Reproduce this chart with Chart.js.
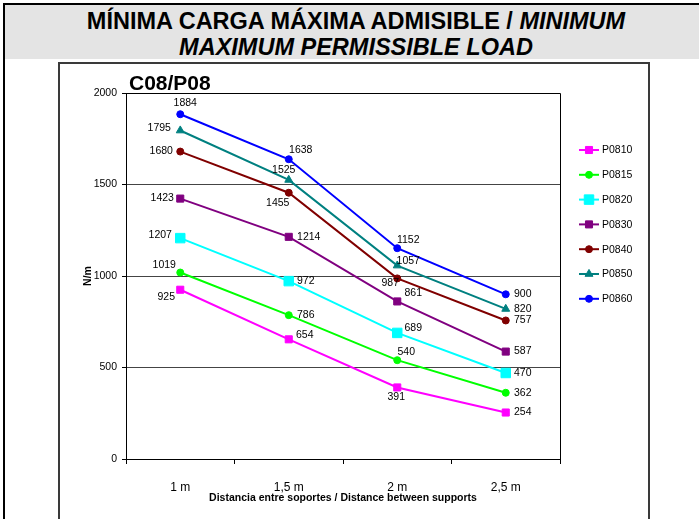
<!DOCTYPE html>
<html>
<head>
<meta charset="utf-8">
<script src="https://cdn.jsdelivr.net/npm/chart.js@4"></script>
<style>
  html, body { margin: 0; padding: 0; background: #fff; width: 699px; height: 519px; overflow: hidden; }
  body { position: relative; font-family: "Liberation Sans", Arial, sans-serif; }
  .frameTop { position: absolute; left: 3px; top: 3px; right: 0; height: 2px; background: #000; }
  .frameLeft { position: absolute; left: 3px; top: 3px; width: 2px; bottom: 0; background: #000; }
  .band { position: absolute; left: 5px; top: 5px; right: 0; height: 54px; background: #e4e4e4; }
  .heading { position: absolute; left: 0; top: 8px; width: 712px; text-align: center; font-weight: bold; font-size: 23.5px; line-height: 26px; color: #000; }
  .box { position: absolute; left: 58px; top: 62px; width: 588px; height: 480px; border: 2px solid #3a3a3a; }
  #chartWrap { position: absolute; left: 60px; top: 63px; width: 588px; height: 456px; }
</style>
</head>
<body>
<div class="band"></div>
<div class="frameTop"></div>
<div class="frameLeft"></div>
<div class="heading">MÍNIMA CARGA MÁXIMA ADMISIBLE / <i>MINIMUM </i><br><i>MAXIMUM PERMISSIBLE LOAD</i></div>
<div class="box"></div>
<div id="chartWrap"><canvas id="loadChart" width="588" height="456"></canvas></div>
<script>
// distances between supports
const distances = ['1 m', '1,5 m', '2 m', '2,5 m'];

// N/m per profile
const p0810 = [925, 654, 391, 254];
const p0815 = [1019, 786, 540, 362];
const p0820 = [1207, 972, 689, 470];
const p0830 = [1423, 1214, 861, 587];
const p0840 = [1680, 1455, 987, 757];
const p0850 = [1795, 1525, 1057, 820];
const p0860 = [1884, 1638, 1152, 900];

const yTicks = [0, 500, 1000, 1500, 2000];

// where each value label sits relative to its point (dx, dy)
const labelOffsets = {
  P0810: [[-14, 7], [16, -4], [-1, 10], [17, 0]],
  P0815: [[-16, -7], [17, 0], [9, -8], [17, 0]],
  P0820: [[-20, -3], [17, 0], [16, -5], [17, 0]],
  P0830: [[-18, 0], [20, 0], [16, -8], [17, 0]],
  P0840: [[-19, 0], [-11, 10], [-7, 5], [17, 0]],
  P0850: [[-21, -2], [-5, -10], [11, -4], [17, 0]],
  P0860: [[5, -11], [12, -9], [11, -8], [17, 0]]
};

const FONT = '"Liberation Sans", Arial, sans-serif';

function series(label, data, color, style, radius) {
  return {
    label,
    data,
    borderColor: color,
    backgroundColor: color,
    borderWidth: 2,
    pointStyle: style,
    pointRadius: radius,
    pointHoverRadius: radius,
    pointBorderWidth: 1,
    pointBorderColor: color,
    pointBackgroundColor: color,
    tension: 0
  };
}

const datasets = [
  series('P0810', p0810, '#ff00ff', 'rect', 5),
  series('P0815', p0815, '#00ff00', 'circle', 3.5),
  series('P0820', p0820, '#00ffff', 'rect', 6.7),
  series('P0830', p0830, '#800080', 'rect', 5),
  series('P0840', p0840, '#800000', 'circle', 3.5),
  series('P0850', p0850, '#008080', 'triangle', 4.6),
  series('P0860', p0860, '#0000ff', 'circle', 3.5)
];

const valueLabels = {
  id: 'valueLabels',
  afterDatasetsDraw(chart) {
    const ctx = chart.ctx;
    ctx.save();
    ctx.font = '10.5px ' + FONT;
    ctx.fillStyle = '#000';
    ctx.textAlign = 'center';
    ctx.textBaseline = 'middle';
    chart.data.datasets.forEach((ds, i) => {
      const meta = chart.getDatasetMeta(i);
      const offs = labelOffsets[ds.label];
      meta.data.forEach((pt, j) => {
        ctx.fillText(String(ds.data[j]), pt.x + offs[j][0], pt.y + offs[j][1]);
      });
    });
    ctx.restore();
  }
};

const frameAndLegend = {
  id: 'frameAndLegend',
  afterDraw(chart) {
    const ctx = chart.ctx;
    const area = chart.chartArea;
    ctx.save();
    // plot border top + right
    ctx.strokeStyle = '#000';
    ctx.lineWidth = 1;
    ctx.beginPath();
    ctx.moveTo(area.left, area.top + 0.5);
    ctx.lineTo(area.right + 0.5, area.top + 0.5);
    ctx.lineTo(area.right + 0.5, area.bottom);
    ctx.stroke();

    // chart title
    ctx.fillStyle = '#000';
    ctx.font = 'bold 21px ' + FONT;
    ctx.textAlign = 'left';
    ctx.textBaseline = 'alphabetic';
    ctx.fillText('C08/P08', 69, 27);

    // legend
    ctx.font = '10.5px ' + FONT;
    ctx.textBaseline = 'middle';
    chart.data.datasets.forEach((ds, i) => {
      const y = 87 + i * 24.8;
      ctx.strokeStyle = ds.borderColor;
      ctx.lineWidth = 2;
      ctx.beginPath();
      ctx.moveTo(519, y);
      ctx.lineTo(539, y);
      ctx.stroke();
      ctx.fillStyle = ds.backgroundColor;
      ctx.lineWidth = 1;
      Chart.helpers.drawPoint(ctx, { pointStyle: ds.pointStyle, radius: ds.pointRadius, borderWidth: 1, rotation: 0 }, 529, y);
      ctx.fillStyle = '#000';
      ctx.fillText(ds.label, 542, y + 0.5);
    });
    ctx.restore();
  }
};

new Chart(document.getElementById('loadChart'), {
  type: 'line',
  data: { labels: distances, datasets },
  plugins: [valueLabels, frameAndLegend],
  options: {
    responsive: false,
    animation: false,
    events: [],
    layout: { padding: { top: 30, right: 88, left: 0, bottom: 0 } },
    plugins: { legend: { display: false }, tooltip: { enabled: false } },
    scales: {
      x: {
        type: 'category',
        offset: true,
        afterFit(scale) { scale.height = 60; },
        grid: { drawOnChartArea: false, drawTicks: true, tickLength: 5, tickColor: '#000', offset: true },
        border: { color: '#000', width: 1 },
        ticks: { color: '#000', font: { family: FONT, size: 12 }, padding: 16, maxRotation: 0 },
        title: { display: true, text: 'Distancia entre soportes / Distance between supports', color: '#000', font: { family: FONT, size: 10.5, weight: 'bold' }, padding: { top: 0, bottom: 15 } }
      },
      y: {
        min: yTicks[0],
        max: yTicks[yTicks.length - 1],
        afterFit(scale) { scale.width = 66; },
        afterBuildTicks(scale) { scale.ticks = yTicks.map((v) => ({ value: v })); },
        grid: {
          color: (c) => (c.tick && (c.tick.value === 0 || c.tick.value === 2000)) ? 'rgba(0,0,0,0)' : '#444',
          lineWidth: 1,
          tickLength: 4,
          tickColor: '#000'
        },
        border: { color: '#000', width: 1 },
        ticks: { color: '#000', font: { family: FONT, size: 10.5 }, padding: 5, callback: (v) => String(v) },
        title: { display: true, text: 'N/m', color: '#000', font: { family: FONT, size: 10.5, weight: 'bold' }, padding: { top: 22, bottom: 0 } }
      }
    }
  }
});
</script>
</body>
</html>
